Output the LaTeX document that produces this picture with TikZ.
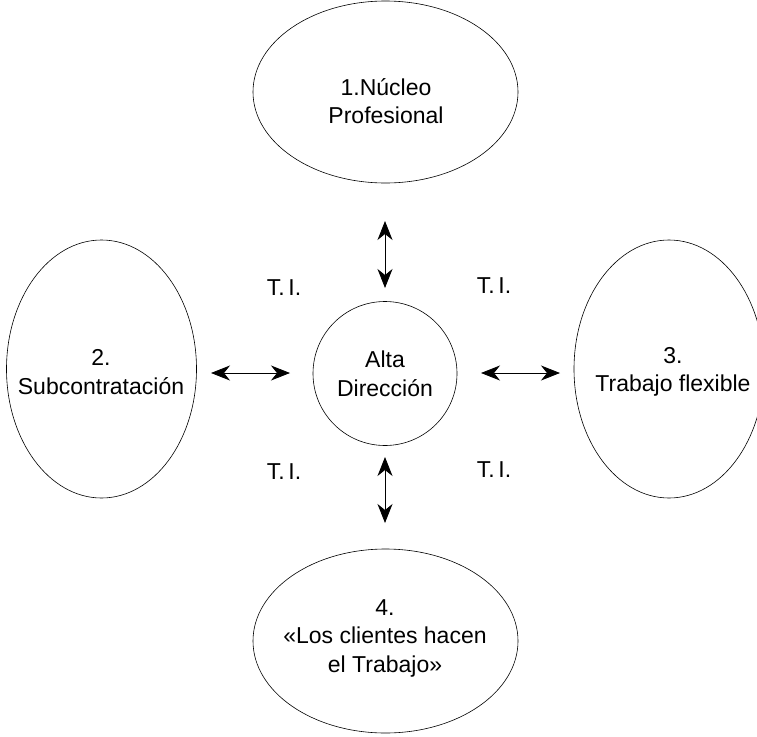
\documentclass[tikz,border=0pt]{standalone}
\usepackage{fontspec}
\setmainfont{Liberation Sans}
\usetikzlibrary{shapes.geometric,arrows.meta}
\begin{document}
\begin{tikzpicture}[x=1pt,y=-1pt,
  oval/.style={draw,ellipse,line width=0.6pt,inner sep=0pt},
  lbl/.style={align=center,font=\fontsize{23}{28.5}\selectfont,inner sep=0pt},
  tip/.style={Stealth[length=19pt,width=15pt,inset=6pt]},
  dbl/.style={{Stealth[length=19pt,width=15pt,inset=6pt]}-{Stealth[length=19pt,width=15pt,inset=6pt]},line width=0.8pt}]
\useasboundingbox (0,0) rectangle (757,736);
% shapes
\node[oval,minimum width=265pt,minimum height=182pt] (e1) at (385.5,92) {};
\node[oval,minimum width=190pt,minimum height=258pt] (e2) at (101.5,369) {};
\node[oval,minimum width=190pt,minimum height=258pt] (e3) at (669,369) {};
\node[oval,minimum width=265pt,minimum height=184pt] (e4) at (385.5,641) {};
\node[draw,circle,line width=0.6pt,minimum size=144pt,inner sep=0pt] (c) at (385,373.5) {};
% texts
\node[lbl] (t1) at (386,101) {1.Núcleo\\Profesional};
\node[lbl] (t2) at (101,372) {2.\\Subcontratación};
\node[lbl] (t3) at (673,372) {3.\\Trabajo flexible};
\node[lbl] (t4) at (385,638) {4.\\«Los clientes hacen\\el Trabajo»};
\node[lbl] (tc) at (385,374) {Alta\\Dirección};
\node[lbl] (ti1) at (284,288) {T.\,I.};
\node[lbl] (ti2) at (494,286) {T.\,I.};
\node[lbl] (ti3) at (284,472) {T.\,I.};
\node[lbl] (ti4) at (494,470) {T.\,I.};
% arrow ends
\coordinate (a1) at (385,221);
\coordinate (a2) at (385,288);
\coordinate (b1) at (385,457);
\coordinate (b2) at (385,523);
\coordinate (l1) at (211,373);
\coordinate (l2) at (290,373);
\coordinate (r1) at (481,373);
\coordinate (r2) at (560,373);
\draw[dbl] (a1) -- (a2);
\draw[dbl] (b1) -- (b2);
\draw[dbl] (l1) -- (l2);
\draw[dbl] (r1) -- (r2);
\end{tikzpicture}
\end{document}
